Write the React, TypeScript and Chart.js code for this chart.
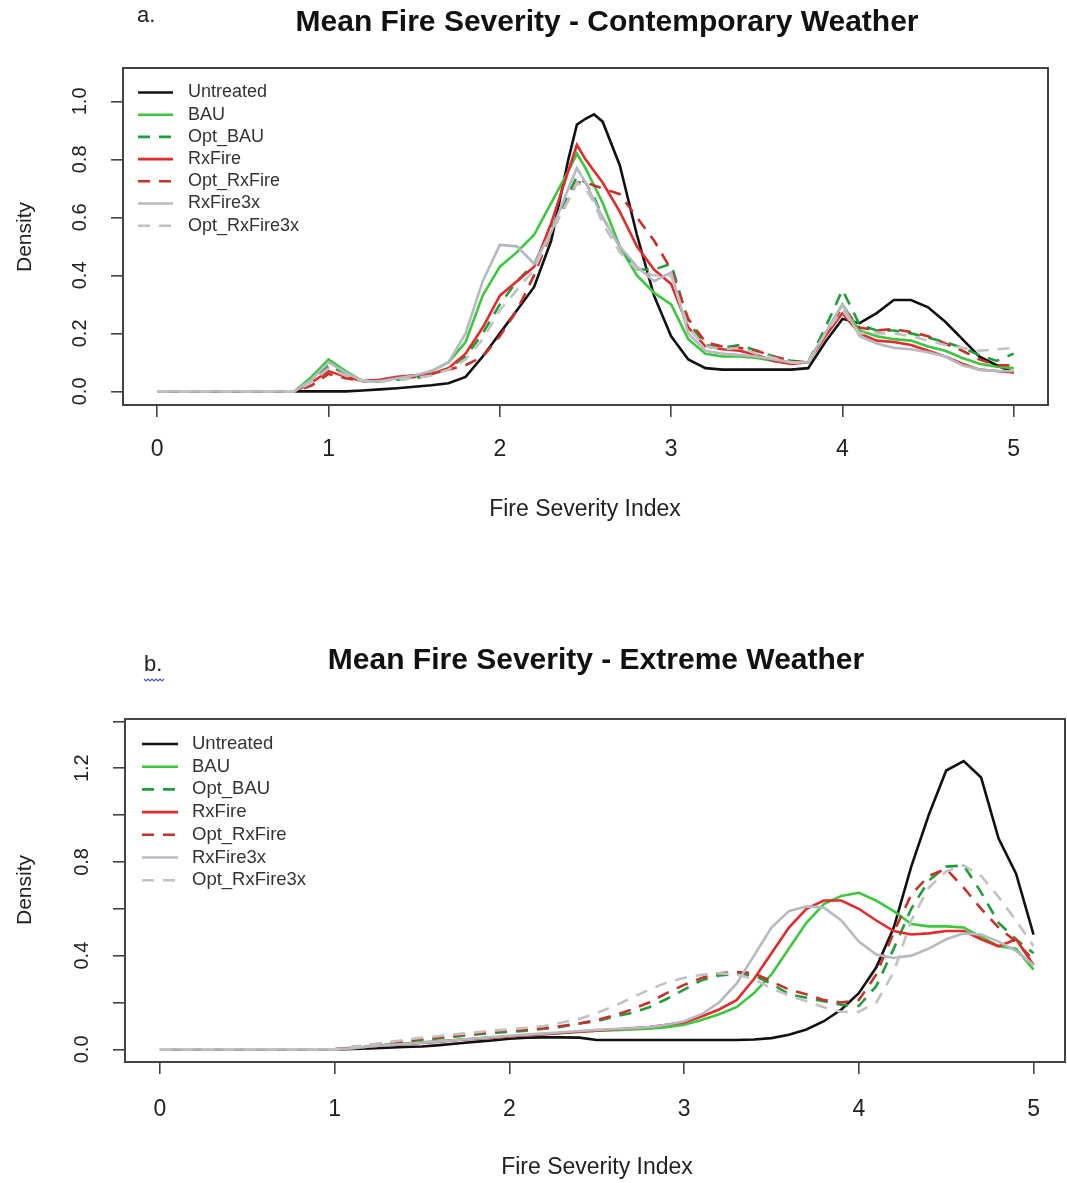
import React, { useEffect, useRef } from 'react';
import { Chart, registerables } from 'chart.js';

Chart.register(...registerables);

// ---------- series definitions ----------
const SERIES_LABELS = ['Untreated', 'BAU', 'Opt_BAU', 'RxFire', 'Opt_RxFire', 'RxFire3x', 'Opt_RxFire3x'];
const SERIES_COLORS = ['#111111', '#3cc83c', '#1f9e3c', '#e42a2a', '#c8302c', '#b5b9c2', '#c2c2c2'];
const SERIES_DASHED = [false, false, true, false, true, false, true];

// ---------- axis ticks ----------
const X_TICKS = [0, 1, 2, 3, 4, 5];
const X_TICK_LABELS = ['0', '1', '2', '3', '4', '5'];
const Y_TICKS_A = [0, 0.2, 0.4, 0.6, 0.8, 1.0];
const Y_TICK_LABELS_A = ['0.0', '0.2', '0.4', '0.6', '0.8', '1.0'];
const Y_TICKS_B = [0, 0.2, 0.4, 0.6, 0.8, 1.0, 1.2, 1.4];
const Y_TICK_LABELS_B = ['0.0', '', '0.4', '', '0.8', '', '1.2', ''];

// ---------- panel a: contemporary weather ----------
const X_A = [0, 0.8, 0.9, 1.0, 1.1, 1.2, 1.3, 1.4, 1.5, 1.6, 1.7, 1.8, 1.9, 2.0, 2.1, 2.2, 2.3, 2.4, 2.45, 2.5, 2.55,
  2.6, 2.7, 2.8, 2.9, 3.0, 3.1, 3.2, 3.3, 3.4, 3.5, 3.6, 3.7, 3.8, 3.9, 4.0, 4.1, 4.2, 4.3, 4.4, 4.5, 4.6, 4.7, 4.8, 4.9, 5.0];
const A_UNTREATED = [0, 0, 0, 0, 0, 0.003, 0.007, 0.011, 0.016, 0.021, 0.028, 0.05, 0.12, 0.2, 0.28, 0.36, 0.52, 0.8, 0.92, 0.94, 0.955,
  0.93, 0.78, 0.54, 0.33, 0.19, 0.11, 0.08, 0.075, 0.075, 0.075, 0.075, 0.075, 0.08, 0.17, 0.25, 0.235, 0.27, 0.315, 0.315, 0.29, 0.24, 0.18, 0.12, 0.09, 0.065];
const A_BAU = [0, 0, 0.05, 0.11, 0.07, 0.035, 0.035, 0.045, 0.05, 0.07, 0.1, 0.17, 0.33, 0.43, 0.48, 0.54, 0.65, 0.76, 0.82, 0.77, 0.71,
  0.65, 0.5, 0.4, 0.34, 0.3, 0.18, 0.13, 0.12, 0.12, 0.115, 0.105, 0.1, 0.1, 0.2, 0.3, 0.21, 0.19, 0.18, 0.175, 0.155, 0.14, 0.115, 0.095, 0.085, 0.08];
const A_OPT_BAU = [0, 0, 0.03, 0.09, 0.06, 0.035, 0.035, 0.04, 0.045, 0.055, 0.08, 0.12, 0.2, 0.3, 0.38, 0.44, 0.56, 0.68, 0.74, 0.72, 0.67,
  0.6, 0.5, 0.42, 0.42, 0.44, 0.24, 0.16, 0.15, 0.16, 0.14, 0.12, 0.105, 0.1, 0.22, 0.35, 0.23, 0.21, 0.21, 0.2, 0.185, 0.17, 0.15, 0.125, 0.105, 0.13];
const A_RXFIRE = [0, 0, 0.03, 0.07, 0.05, 0.035, 0.04, 0.05, 0.055, 0.06, 0.08, 0.13, 0.22, 0.33, 0.38, 0.43, 0.58, 0.76, 0.85, 0.8, 0.76,
  0.72, 0.62, 0.5, 0.42, 0.37, 0.22, 0.155, 0.145, 0.14, 0.125, 0.105, 0.095, 0.1, 0.19, 0.27, 0.2, 0.175, 0.17, 0.16, 0.14, 0.12, 0.095, 0.075, 0.07, 0.065];
const A_OPT_RXFIRE = [0, 0, 0.02, 0.06, 0.045, 0.035, 0.04, 0.045, 0.05, 0.06, 0.075, 0.09, 0.12, 0.19, 0.28, 0.4, 0.55, 0.66, 0.72, 0.72, 0.71,
  0.7, 0.68, 0.6, 0.52, 0.42, 0.25, 0.17, 0.155, 0.15, 0.14, 0.12, 0.105, 0.1, 0.2, 0.29, 0.22, 0.21, 0.215, 0.205, 0.19, 0.165, 0.14, 0.11, 0.09, 0.09];
const A_RXFIRE3X = [0, 0, 0.04, 0.1, 0.065, 0.035, 0.035, 0.045, 0.055, 0.07, 0.1, 0.2, 0.38, 0.505, 0.5, 0.44, 0.55, 0.7, 0.77, 0.72, 0.66,
  0.6, 0.5, 0.43, 0.38, 0.41, 0.2, 0.14, 0.13, 0.125, 0.12, 0.11, 0.1, 0.1, 0.2, 0.3, 0.19, 0.165, 0.15, 0.145, 0.135, 0.12, 0.09, 0.075, 0.07, 0.07];
const A_OPT_RXFIRE3X = [0, 0, 0.03, 0.08, 0.055, 0.035, 0.035, 0.04, 0.045, 0.055, 0.075, 0.11, 0.18, 0.28, 0.35, 0.42, 0.55, 0.66, 0.72, 0.7, 0.65,
  0.58, 0.48, 0.42, 0.4, 0.4, 0.22, 0.155, 0.145, 0.15, 0.13, 0.115, 0.1, 0.1, 0.2, 0.28, 0.2, 0.2, 0.2, 0.19, 0.175, 0.16, 0.15, 0.14, 0.145, 0.15];

// ---------- panel b: extreme weather ----------
const X_B = [0, 1.0, 1.1, 1.2, 1.3, 1.4, 1.5, 1.6, 1.7, 1.8, 1.9, 2.0, 2.1, 2.2, 2.3, 2.4, 2.5, 2.6, 2.7, 2.8, 2.9,
  3.0, 3.1, 3.2, 3.3, 3.4, 3.5, 3.6, 3.7, 3.8, 3.9, 4.0, 4.1, 4.2, 4.3, 4.4, 4.5, 4.6, 4.7, 4.8, 4.9, 5.0];
const B_UNTREATED = [0, 0, 0.002, 0.004, 0.007, 0.01, 0.012, 0.018, 0.025, 0.032, 0.038, 0.045, 0.05, 0.051, 0.051, 0.05, 0.04, 0.04, 0.04, 0.04, 0.04,
  0.04, 0.04, 0.04, 0.04, 0.042, 0.048, 0.062, 0.085, 0.12, 0.17, 0.24, 0.35, 0.52, 0.78, 1.0, 1.19, 1.23, 1.16, 0.9, 0.75, 0.49];
const B_BAU = [0, 0, 0.005, 0.012, 0.02, 0.025, 0.03, 0.035, 0.04, 0.045, 0.05, 0.055, 0.06, 0.065, 0.07, 0.075, 0.08, 0.082, 0.085, 0.088, 0.095,
  0.105, 0.125, 0.15, 0.18, 0.24, 0.32, 0.43, 0.54, 0.62, 0.655, 0.668, 0.635, 0.59, 0.535, 0.525, 0.525, 0.52, 0.48, 0.44, 0.43, 0.34];
const B_OPT_BAU = [0, 0, 0.008, 0.015, 0.025, 0.033, 0.04, 0.048, 0.055, 0.063, 0.07, 0.075, 0.08, 0.088, 0.097, 0.11, 0.12, 0.14, 0.155, 0.18, 0.215,
  0.255, 0.295, 0.315, 0.322, 0.315, 0.28, 0.235, 0.22, 0.205, 0.19, 0.185, 0.27, 0.43, 0.6, 0.72, 0.78, 0.785, 0.67, 0.54, 0.47, 0.41];
const B_RXFIRE = [0, 0, 0.006, 0.012, 0.018, 0.022, 0.027, 0.033, 0.04, 0.045, 0.05, 0.055, 0.06, 0.065, 0.07, 0.075, 0.08, 0.085, 0.09, 0.095, 0.105,
  0.115, 0.14, 0.17, 0.21, 0.3, 0.41, 0.52, 0.6, 0.635, 0.635, 0.6, 0.55, 0.505, 0.49, 0.495, 0.505, 0.505, 0.47, 0.44, 0.47, 0.36];
const B_OPT_RXFIRE = [0, 0, 0.01, 0.018, 0.028, 0.035, 0.045, 0.052, 0.06, 0.068, 0.075, 0.08, 0.085, 0.09, 0.1, 0.11, 0.125, 0.145, 0.17, 0.2, 0.24,
  0.275, 0.305, 0.325, 0.33, 0.325, 0.29, 0.255, 0.235, 0.21, 0.2, 0.21, 0.32, 0.5, 0.66, 0.74, 0.77, 0.69, 0.6, 0.52, 0.46, 0.38];
const B_RXFIRE3X = [0, 0, 0.005, 0.012, 0.018, 0.023, 0.028, 0.034, 0.04, 0.046, 0.052, 0.058, 0.063, 0.068, 0.073, 0.078, 0.083, 0.087, 0.09, 0.095, 0.105,
  0.12, 0.15, 0.2, 0.28, 0.4, 0.52, 0.59, 0.61, 0.605, 0.55, 0.46, 0.405, 0.39, 0.4, 0.43, 0.47, 0.495, 0.49, 0.46, 0.42, 0.36];
const B_OPT_RXFIRE3X = [0, 0, 0.01, 0.02, 0.03, 0.04, 0.05, 0.057, 0.065, 0.072, 0.08, 0.085, 0.092, 0.1, 0.115, 0.13, 0.155, 0.185, 0.22, 0.255, 0.285,
  0.305, 0.318, 0.325, 0.32, 0.3, 0.26, 0.23, 0.205, 0.18, 0.16, 0.16, 0.2, 0.33, 0.55, 0.69, 0.76, 0.785, 0.74, 0.65, 0.55, 0.44];

const SERIES_A = [A_UNTREATED, A_BAU, A_OPT_BAU, A_RXFIRE, A_OPT_RXFIRE, A_RXFIRE3X, A_OPT_RXFIRE3X];
const SERIES_B = [B_UNTREATED, B_BAU, B_OPT_BAU, B_RXFIRE, B_OPT_RXFIRE, B_RXFIRE3X, B_OPT_RXFIRE3X];

const TITLE_A = 'Mean Fire Severity - Contemporary Weather';
const TITLE_B = 'Mean Fire Severity - Extreme Weather';
const X_TITLE = 'Fire Severity Index';
const Y_TITLE = 'Density';

const FONT = "'Liberation Sans', Arial, sans-serif";
const TEXT = '#222222';
const AXIS = '#444444';

const W = 1067;

type Panel = {
  top: number; height: number;
  xs: number[]; series: number[][];
  yTicks: number[]; yLabels: string[];
  yMin: number; yMax: number; xMax: number;
  area: { left: number; right: number; top: number; bottom: number };
  xTickPad: number; yTickPad: number;
  title: string; titleX: number; titleY: number;
  letter: string; letterX: number; letterY: number; wavy: boolean;
  xTitleX: number; xTitleY: number; yTitleX: number; yTitleY: number;
  legend: { x1: number; x2: number; tx: number; y0: number; dy: number; size: number };
};

const PANELS: Panel[] = [
  {
    top: 0, height: 590, xs: X_A, series: SERIES_A,
    yTicks: Y_TICKS_A, yLabels: Y_TICK_LABELS_A, yMin: -0.047, yMax: 1.115, xMax: 5.2,
    area: { left: 123, right: 1048, top: 68, bottom: 405 },
    xTickPad: 19, yTickPad: 17,
    title: TITLE_A, titleX: 607, titleY: 23,
    letter: 'a.', letterX: 137, letterY: 16, wavy: false,
    xTitleX: 585, xTitleY: 510, yTitleX: 25, yTitleY: 237,
    legend: { x1: 138, x2: 173, tx: 188, y0: 92.5, dy: 22.2, size: 18 },
  },
  {
    top: 590, height: 593, xs: X_B, series: SERIES_B,
    yTicks: Y_TICKS_B, yLabels: Y_TICK_LABELS_B, yMin: -0.054, yMax: 1.41, xMax: 5.18,
    area: { left: 125, right: 1065, top: 129, bottom: 472 },
    xTickPad: 22, yTickPad: 17,
    title: TITLE_B, titleX: 596, titleY: 71,
    letter: 'b.', letterX: 144, letterY: 75, wavy: true,
    xTitleX: 597, xTitleY: 578, yTitleX: 25, yTitleY: 300,
    legend: { x1: 142, x2: 178, tx: 192, y0: 154, dy: 22.7, size: 18.5 },
  },
];

const rStylePlugin = {
  id: 'rstyle',
  afterDraw(chart: any) {
    const p: Panel = chart.$panel;
    if (!p) return;
    const { ctx, chartArea: ca } = chart;
    ctx.save();
    // plot box
    ctx.setLineDash([]);
    ctx.strokeStyle = AXIS;
    ctx.lineWidth = 2;
    ctx.strokeRect(ca.left, ca.top, ca.right - ca.left, ca.bottom - ca.top);

    // legend (no frame)
    chart.data.datasets.forEach((ds: any, i: number) => {
      const y = p.legend.y0 + i * p.legend.dy;
      ctx.strokeStyle = ds.borderColor;
      ctx.lineWidth = ds.borderWidth;
      ctx.setLineDash(ds.borderDash || []);
      ctx.beginPath();
      ctx.moveTo(p.legend.x1, y);
      ctx.lineTo(p.legend.x2, y);
      ctx.stroke();
      ctx.setLineDash([]);
      ctx.fillStyle = '#333333';
      ctx.font = `${p.legend.size}px ${FONT}`;
      ctx.textAlign = 'left';
      ctx.textBaseline = 'middle';
      ctx.fillText(ds.label, p.legend.tx, y);
    });

    // main title
    ctx.fillStyle = '#111111';
    ctx.font = `bold 30px ${FONT}`;
    ctx.textAlign = 'center';
    ctx.textBaseline = 'middle';
    ctx.fillText(p.title, p.titleX, p.titleY);

    // panel letter
    ctx.font = `22px ${FONT}`;
    ctx.textAlign = 'left';
    ctx.fillStyle = TEXT;
    ctx.fillText(p.letter, p.letterX, p.letterY);
    if (p.wavy) {
      ctx.strokeStyle = '#4b5bd6';
      ctx.lineWidth = 1.2;
      ctx.beginPath();
      const wy = p.letterY + 14;
      for (let k = 0; k <= 10; k++) {
        const wx = p.letterX + k * 2;
        const yy = wy + (k % 2 === 0 ? 0 : 2);
        if (k === 0) ctx.moveTo(wx, yy); else ctx.lineTo(wx, yy);
      }
      ctx.stroke();
    }

    // axis titles
    ctx.fillStyle = TEXT;
    ctx.font = `23px ${FONT}`;
    ctx.textAlign = 'center';
    ctx.textBaseline = 'middle';
    ctx.fillText(X_TITLE, p.xTitleX, p.xTitleY);
    ctx.save();
    ctx.translate(p.yTitleX, p.yTitleY);
    ctx.rotate(-Math.PI / 2);
    ctx.font = `21px ${FONT}`;
    ctx.fillText(Y_TITLE, 0, 0);
    ctx.restore();

    ctx.restore();
  },
};

function makeConfig(p: Panel): any {
  const datasets = SERIES_LABELS.map((label, i) => ({
    label,
    data: p.xs.map((x, k) => ({ x, y: p.series[i][k] })),
    borderColor: SERIES_COLORS[i],
    backgroundColor: SERIES_COLORS[i],
    borderWidth: 2.6,
    borderDash: SERIES_DASHED[i] ? [12, 9] : [],
    pointRadius: 0,
    tension: 0,
    fill: false,
    order: SERIES_LABELS.length - i,
  }));
  const tickGrid = { display: true, drawOnChartArea: false, drawTicks: true, tickLength: 12, color: AXIS, lineWidth: 1.6 };
  return {
    type: 'line',
    data: { datasets },
    plugins: [rStylePlugin],
    options: {
      animation: false,
      responsive: false,
      maintainAspectRatio: false,
      events: [],
      layout: { padding: { left: 0, right: W - p.area.right, top: p.area.top, bottom: 0 } },
      plugins: { legend: { display: false }, tooltip: { enabled: false }, title: { display: false } },
      scales: {
        x: {
          type: 'linear',
          min: -0.2,
          max: p.xMax,
          afterBuildTicks: (s: any) => { s.ticks = X_TICKS.map((v) => ({ value: v })); },
          afterFit: (s: any) => { s.height = p.height - p.area.bottom; },
          grid: tickGrid,
          border: { display: false },
          ticks: {
            autoSkip: false, maxRotation: 0, minRotation: 0,
            padding: p.xTickPad, color: TEXT,
            font: { family: FONT, size: 23 },
            callback: (_v: any, i: number) => X_TICK_LABELS[i],
          },
        },
        y: {
          type: 'linear',
          min: p.yMin,
          max: p.yMax,
          afterBuildTicks: (s: any) => { s.ticks = p.yTicks.map((v) => ({ value: v })); },
          afterFit: (s: any) => { s.width = p.area.left; },
          grid: tickGrid,
          border: { display: false },
          ticks: {
            autoSkip: false, minRotation: 90, maxRotation: 90, crossAlign: 'center',
            padding: p.yTickPad, color: TEXT,
            font: { family: FONT, size: 20 },
            callback: (_v: any, i: number) => p.yLabels[i],
          },
        },
      },
    },
  };
}

function PanelChart({ panel }: { panel: Panel }) {
  const ref = useRef<HTMLCanvasElement | null>(null);
  useEffect(() => {
    if (!ref.current) return;
    const cfg = makeConfig(panel);
    const chart: any = new Chart(ref.current, cfg);
    chart.$panel = panel;
    chart.draw();
    return () => chart.destroy();
  }, [panel]);
  return (
    <canvas
      ref={ref}
      width={W}
      height={panel.height}
      style={{ position: 'absolute', left: 0, top: panel.top, width: W, height: panel.height, background: '#ffffff' }}
    />
  );
}

export default function App() {
  return (
    <div style={{ position: 'absolute', left: 0, top: 0, width: W, height: 1183, background: '#ffffff' }}>
      {PANELS.map((p, i) => (
        <PanelChart key={i} panel={p} />
      ))}
    </div>
  );
}
